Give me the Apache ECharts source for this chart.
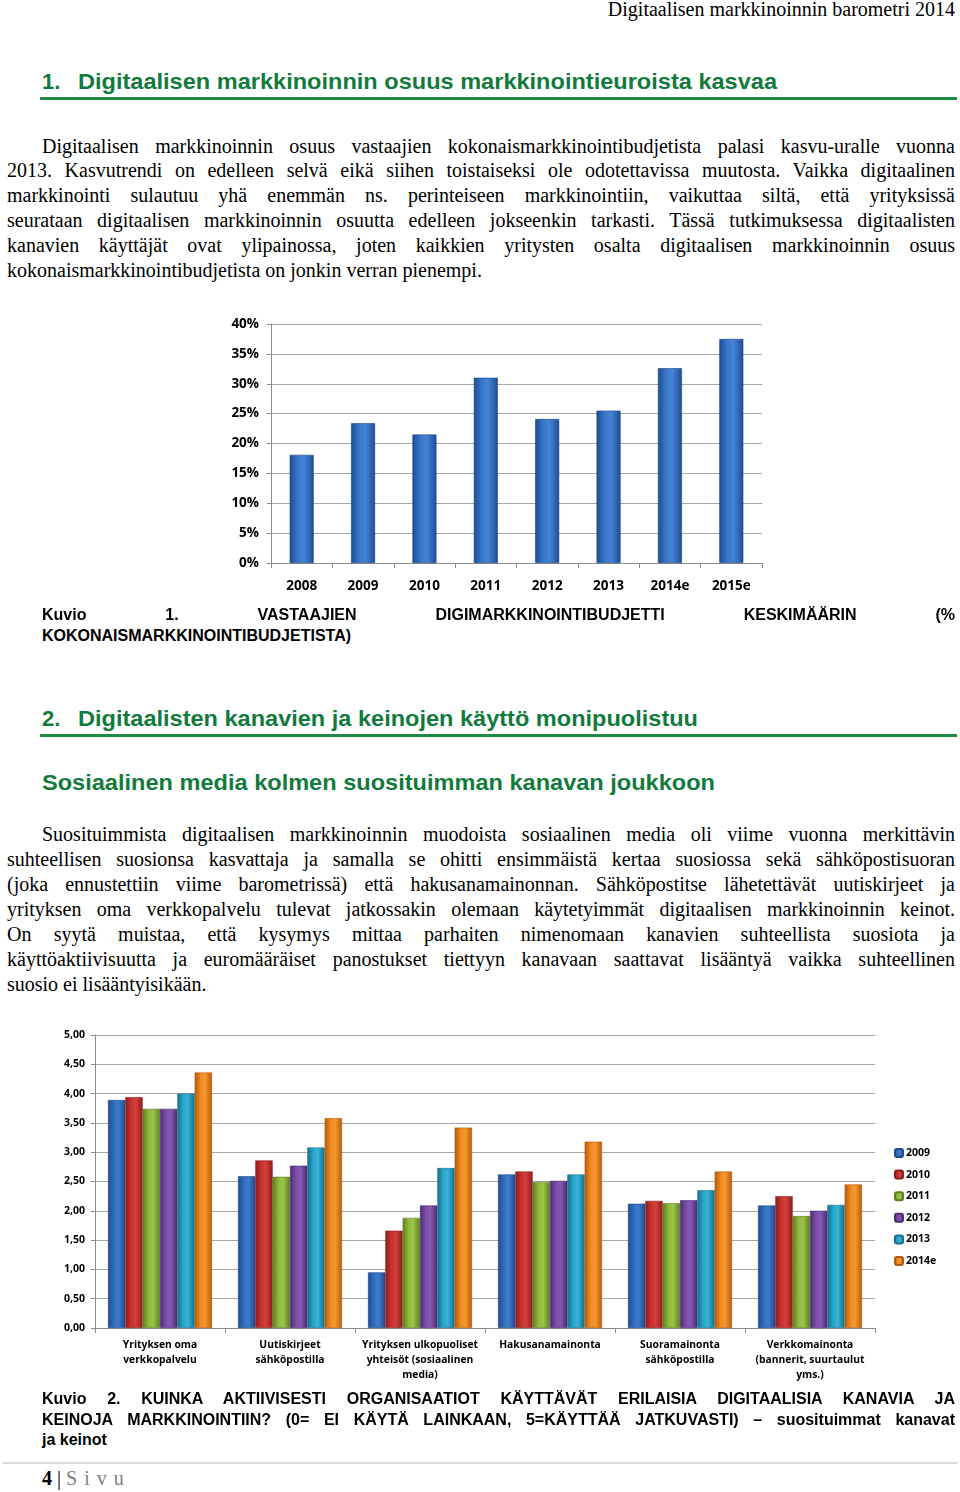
<!DOCTYPE html>
<html><head><meta charset="utf-8">
<script src="https://cdn.jsdelivr.net/npm/echarts@6/dist/echarts.min.js"></script>
<style>
html,body{margin:0;padding:0;background:#fff;}
#page{position:relative;width:960px;height:1492px;overflow:hidden;color:#000;}
.t{position:absolute;white-space:nowrap;}
.serif{font-family:"Liberation Serif","Times New Roman",serif;font-size:20px;}
.h{font-family:"Liberation Sans",Arial,sans-serif;font-weight:bold;color:#127a3c;font-size:22px;transform-origin:0 50%;}
.cap{font-family:"Liberation Sans",Arial,sans-serif;font-weight:bold;font-size:16px;}
.rule{position:absolute;height:3px;background:#1f8a45;}
</style></head>
<body><div id="page">
<div class="t serif" id="hdr" style="top:-3px;right:5px;line-height:24px;">Digitaalisen markkinoinnin barometri 2014</div>

<div class="t h" style="left:42px;top:69px;line-height:26px;">1.</div>
<div class="t h fit" data-w="699" style="left:78px;top:69px;line-height:26px;">Digitaalisen markkinoinnin osuus markkinointieuroista kasvaa</div>
<div class="rule" style="left:40px;top:97px;width:917px;"></div>

<div id="p1"></div>

<div id="chart1" style="position:absolute;left:200px;top:300px;width:600px;height:320px;"></div>

<div id="c1"></div>

<div class="t h" style="left:42px;top:706px;line-height:26px;">2.</div>
<div class="t h fit" data-w="620" style="left:78px;top:706px;line-height:26px;">Digitaalisten kanavien ja keinojen käyttö monipuolistuu</div>
<div class="rule" style="left:40px;top:734px;width:917px;"></div>

<div class="t h fit" data-w="673" style="left:42px;top:770px;line-height:26px;">Sosiaalinen media kolmen suosituimman kanavan joukkoon</div>

<div id="p2"></div>

<div id="chart2" style="position:absolute;left:30px;top:1015px;width:930px;height:380px;"></div>

<div id="c2"></div>

<div style="position:absolute;left:3px;top:1462px;width:955px;height:2px;background:#dadada;"></div>
<div class="t serif" style="left:42px;top:1466px;line-height:24px;font-size:20px;"><b>4</b> | <span style="color:#808080;letter-spacing:7px;">Sivu</span></div>
</div>

<script>
// ---------- data ----------
var years1 = ['2008','2009','2010','2011','2012','2013','2014e','2015e'];
var share1 = [18.1, 23.4, 21.5, 31.0, 24.1, 25.5, 32.6, 37.5];

var channels = ['Yrityksen oma\nverkkopalvelu','Uutiskirjeet\nsähköpostilla','Yrityksen ulkopuoliset\nyhteisöt (sosiaalinen\nmedia)','Hakusanamainonta','Suoramainonta\nsähköpostilla','Verkkomainonta\n(bannerit, suurtaulut\nyms.)'];
var seriesNames = ['2009','2010','2011','2012','2013','2014e'];
var v2009  = [3.89, 2.59, 0.95, 2.62, 2.12, 2.09];
var v2010  = [3.94, 2.86, 1.66, 2.67, 2.17, 2.25];
var v2011  = [3.74, 2.58, 1.88, 2.49, 2.13, 1.91];
var v2012  = [3.74, 2.77, 2.09, 2.51, 2.18, 2.00];
var v2013  = [4.00, 3.08, 2.73, 2.62, 2.35, 2.10];
var v2014e = [4.36, 3.58, 3.42, 3.18, 2.67, 2.45];

// ---------- text ----------
var para1 = [
 'Digitaalisen markkinoinnin osuus vastaajien kokonaismarkkinointibudjetista palasi kasvu-uralle vuonna',
 '2013. Kasvutrendi on edelleen selvä eikä siihen toistaiseksi ole odotettavissa muutosta. Vaikka digitaalinen',
 'markkinointi sulautuu yhä enemmän ns. perinteiseen markkinointiin, vaikuttaa siltä, että yrityksissä',
 'seurataan digitaalisen markkinoinnin osuutta edelleen jokseenkin tarkasti. Tässä tutkimuksessa digitaalisten',
 'kanavien käyttäjät ovat ylipainossa, joten kaikkien yritysten osalta digitaalisen markkinoinnin osuus',
 'kokonaismarkkinointibudjetista on jonkin verran pienempi.'
];
var para2 = [
 'Suosituimmista digitaalisen markkinoinnin muodoista sosiaalinen media oli viime vuonna merkittävin',
 'suhteellisen suosionsa kasvattaja ja samalla se ohitti ensimmäistä kertaa suosiossa sekä sähköpostisuoran',
 '(joka ennustettiin viime barometrissä) että hakusanamainonnan. Sähköpostitse lähetettävät uutiskirjeet ja',
 'yrityksen oma verkkopalvelu tulevat jatkossakin olemaan käytetyimmät digitaalisen markkinoinnin keinot.',
 'On syytä muistaa, että kysymys mittaa parhaiten nimenomaan kanavien suhteellista suosiota ja',
 'käyttöaktiivisuutta ja euromääräiset panostukset tiettyyn kanavaan saattavat lisääntyä vaikka suhteellinen',
 'suosio ei lisääntyisikään.'
];
var cap1 = ['Kuvio 1. VASTAAJIEN DIGIMARKKINOINTIBUDJETTI KESKIMÄÄRIN (%','KOKONAISMARKKINOINTIBUDJETISTA)'];
var cap2 = ['Kuvio 2. KUINKA AKTIIVISESTI ORGANISAATIOT KÄYTTÄVÄT ERILAISIA DIGITAALISIA KANAVIA JA',
 'KEINOJA MARKKINOINTIIN? (0= EI KÄYTÄ LAINKAAN, 5=KÄYTTÄÄ JATKUVASTI) – suosituimmat kanavat',
 'ja keinot'];

var page = document.getElementById('page');
function addLines(lines, cls, firstTop, lh, firstLeft, left, right, justifyLast){
  lines.forEach(function(txt,i){
    var d = document.createElement('div');
    d.className = 't ' + cls;
    var x = (i===0)?firstLeft:left;
    d.style.left = x+'px';
    d.style.top = (firstTop + i*lh)+'px';
    d.style.lineHeight = lh+'px';
    d.textContent = txt;
    page.appendChild(d);
    var isLast = i===lines.length-1;
    if(!isLast || justifyLast){
      var w = d.getBoundingClientRect().width;
      var sp = (txt.match(/ /g)||[]).length;
      if(sp>0){ d.style.wordSpacing = ((right - x - w)/sp)+'px'; }
    }
  });
}
addLines(para1,'serif',133.5,24.9,42,7,955,false);
addLines(cap1,'cap',605,20.5,42,42,955,false);
addLines(para2,'serif',821.5,25,42,7,955,false);
addLines(cap2,'cap',1389,20.5,42,42,955,false);

document.querySelectorAll('.fit').forEach(function(el){
  var w = el.getBoundingClientRect().width;
  var target = +el.getAttribute('data-w');
  el.style.transform = 'scaleX('+(target/w)+')';
});

// ---------- chart 1 ----------
var blueGrad = {type:'linear',x:0,y:0,x2:1,y2:0,colorStops:[
  {offset:0,color:'#1d4c92'},{offset:0.35,color:'#3a78cd'},{offset:0.6,color:'#4583d6'},{offset:1,color:'#1e4d93'}]};
var labelFont = '"Open Sans","Noto Sans",sans-serif';
var c1 = echarts.init(document.getElementById('chart1'),null,{renderer:'canvas'});
c1.setOption({
  animation:false,
  grid:{left:71,right:38,top:24,bottom:57},
  xAxis:{type:'category',data:years1,
    axisLine:{lineStyle:{color:'#8c8c8c'}},
    axisTick:{show:true,length:5,lineStyle:{color:'#8c8c8c'}},
    axisLabel:{color:'#000',fontWeight:'bold',fontSize:13.5,fontFamily:labelFont,margin:16}},
  yAxis:{type:'value',min:0,max:40,interval:5,
    axisLine:{show:true,lineStyle:{color:'#8c8c8c'}},
    axisTick:{show:true,length:4,lineStyle:{color:'#8c8c8c'}},
    splitLine:{lineStyle:{color:'#a6a6a6'}},
    axisLabel:{formatter:'{value}%',color:'#000',fontWeight:'bold',fontSize:13.5,fontFamily:labelFont,margin:12}},
  series:[{type:'bar',data:share1,barWidth:24,
    itemStyle:{color:blueGrad,borderColor:'#1a4482',borderWidth:0.6}}]
});

// ---------- chart 2 ----------
function grad(edge,mid,light){
  return {type:'linear',x:0,y:0,x2:1,y2:0,colorStops:[
    {offset:0,color:edge},{offset:0.35,color:mid},{offset:0.6,color:light},{offset:1,color:edge}]};
}
var pal = [
  ['#1f4a8c','#336ebf','#3f7ccc','#336ebf'],
  ['#8e1d1b','#c8322f','#d4403c','#c8322f'],
  ['#5d7f1f','#8fb83c','#9cc548','#8fb83c'],
  ['#4b2b72','#7b4fa6','#8759b2','#7b4fa6'],
  ['#166f8c','#2aa5cb','#37b3d8','#2aa5cb'],
  ['#b35b0b','#ef8a21','#f7982f','#ef8a21']
];
var vals = [v2009,v2010,v2011,v2012,v2013,v2014e];
var c2 = echarts.init(document.getElementById('chart2'),null,{renderer:'canvas'});
c2.setOption({
  animation:false,
  grid:{left:65,right:85,top:20,bottom:67},
  legend:{orient:'vertical',left:859,top:127,itemWidth:8,itemHeight:8,itemGap:9.6,
    data:seriesNames,
    textStyle:{color:'#000',fontWeight:'bold',fontSize:10.5,fontFamily:labelFont,lineHeight:12,padding:[0,0,0,-2]}},
  xAxis:{type:'category',data:channels,
    axisLine:{lineStyle:{color:'#8c8c8c'}},
    axisTick:{show:true,length:5,lineStyle:{color:'#8c8c8c'}},
    axisLabel:{interval:0,color:'#000',fontWeight:'bold',fontSize:10.3,lineHeight:15,fontFamily:labelFont,margin:10}},
  yAxis:{type:'value',min:0,max:5,interval:0.5,
    axisLine:{show:true,lineStyle:{color:'#8c8c8c'}},
    axisTick:{show:true,length:4,lineStyle:{color:'#8c8c8c'}},
    splitLine:{lineStyle:{color:'#a6a6a6'}},
    axisLabel:{formatter:function(v){return v.toFixed(2).replace('.',',');},color:'#000',fontWeight:'bold',fontSize:10.5,fontFamily:labelFont,margin:10}},
  series: seriesNames.map(function(n,i){
    return {name:n,type:'bar',data:vals[i],barGap:'0%',barCategoryGap:'20%',
      itemStyle:{color:grad(pal[i][0],pal[i][1],pal[i][2]),borderColor:pal[i][0],borderWidth:0.6}};
  })
});
</script>
</body></html>
